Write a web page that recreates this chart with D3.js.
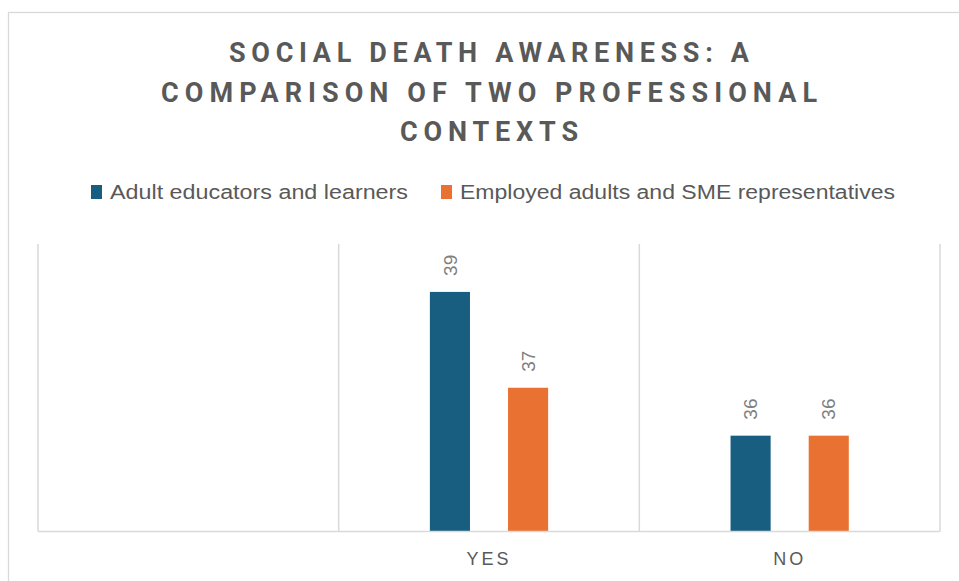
<!DOCTYPE html>
<html>
<head>
<meta charset="utf-8">
<script src="https://cdn.jsdelivr.net/npm/d3@7"></script>
<style>
  html, body { margin: 0; padding: 0; background: #fff; }
  svg { display: block; }
</style>
</head>
<body>
<svg id="chart" width="959" height="581"></svg>
<script>
// Chart content
const titleLines = ["SOCIAL DEATH AWARENESS: A", "COMPARISON OF TWO PROFESSIONAL", "CONTEXTS"];
const categories = ["", "YES", "NO"];
const seriesNames = ["Adult educators and learners", "Employed adults and SME representatives"];
const educators = [null, 39, 36];
const employed = [null, 37, 36];
const seriesColors = ["#175e80", "#e97132"];
const yDomain = [34, 40];

const svg = d3.select("#chart");
const W = 959, H = 581;

// Chart frame
svg.append("rect")
  .attr("x", 8.5).attr("y", 12.5)
  .attr("width", W + 20).attr("height", H + 20)
  .attr("fill", "#fff").attr("stroke", "#d9d9d9").attr("stroke-width", 1.3);

// Title
const titleWidths = [520, 656, 178];
svg.append("g").selectAll("text")
  .data(titleLines)
  .join("text")
  .attr("x", 489)
  .attr("y", (d, i) => 62 + i * 39.5)
  .attr("text-anchor", "middle")
  .attr("textLength", (d, i) => titleWidths[i])
  .attr("lengthAdjust", "spacing")
  .attr("font-family", "Roboto, 'Liberation Sans', Arial, sans-serif")
  .attr("font-weight", "bold")
  .attr("font-size", 27)
  .attr("fill", "#595959")
  .text(d => d);

// Legend
const legendItems = [
  { name: seriesNames[0], color: seriesColors[0], x: 91 },
  { name: seriesNames[1], color: seriesColors[1], x: 441 }
];
const lg = svg.append("g").selectAll("g").data(legendItems).join("g")
  .attr("transform", d => `translate(${d.x},185)`);
lg.append("rect").attr("width", 11).attr("height", 14).attr("fill", d => d.color);
lg.append("text")
  .attr("x", 19).attr("y", 14)
  .attr("font-family", "'Liberation Sans', Arial, sans-serif")
  .attr("font-size", 20)
  .attr("fill", "#595959")
  .attr("textLength", (d, i) => i === 0 ? 298 : 435)
  .attr("lengthAdjust", "spacingAndGlyphs")
  .text(d => d.name);

// Scales
const plot = { left: 38, right: 940, top: 244, bottom: 531.5 };
const x = d3.scaleBand().domain(categories).range([plot.left, plot.right]).padding(0);
const xs = d3.scaleBand().domain(seriesNames).range([0, x.bandwidth()])
  .paddingInner(0.487).paddingOuter(1.167);
const y = d3.scaleLinear().domain(yDomain).range([plot.bottom, plot.top]);

// Vertical category gridlines
const gridXs = categories.map(c => x(c)).concat([plot.right]);
svg.append("g").selectAll("line").data(gridXs).join("line")
  .attr("x1", d => d).attr("x2", d => d)
  .attr("y1", plot.top).attr("y2", plot.bottom)
  .attr("stroke", "#d9d9d9").attr("stroke-width", 1.5);

// Bars
const rows = [];
categories.forEach((c, i) => {
  [educators, employed].forEach((s, j) => {
    if (s[i] != null) rows.push({ cat: c, series: seriesNames[j], value: s[i], color: seriesColors[j] });
  });
});

svg.append("g").selectAll("rect").data(rows).join("rect")
  .attr("x", d => x(d.cat) + xs(d.series))
  .attr("y", d => y(d.value))
  .attr("width", xs.bandwidth())
  .attr("height", d => y(yDomain[0]) - y(d.value))
  .attr("fill", d => d.color);

// Value labels (rotated)
svg.append("g").selectAll("text").data(rows).join("text")
  .attr("transform", d => {
    const cx = x(d.cat) + xs(d.series) + xs.bandwidth() / 2;
    return `translate(${cx},${y(d.value) - 16}) rotate(-90)`;
  })
  .attr("dy", "0.35em")
  .attr("text-anchor", "start")
  .attr("font-family", "'Liberation Sans', Arial, sans-serif")
  .attr("font-size", 19)
  .attr("fill", "#808080")
  .text(d => d.value);

// Category axis
const xAxis = d3.axisBottom(x).tickSize(0).tickPadding(0);
const axisG = svg.append("g")
  .attr("transform", `translate(0,${plot.bottom})`)
  .call(xAxis);
axisG.select(".domain").attr("stroke", "#d9d9d9").attr("stroke-width", 1.5)
  .attr("d", `M${plot.left},0H${plot.right}`);
axisG.selectAll(".tick text")
  .attr("y", 33)
  .attr("dy", 0)
  .attr("font-family", "'Liberation Sans', Arial, sans-serif")
  .attr("font-size", 18)
  .attr("letter-spacing", "3px")
  .attr("fill", "#595959");
</script>
</body>
</html>
